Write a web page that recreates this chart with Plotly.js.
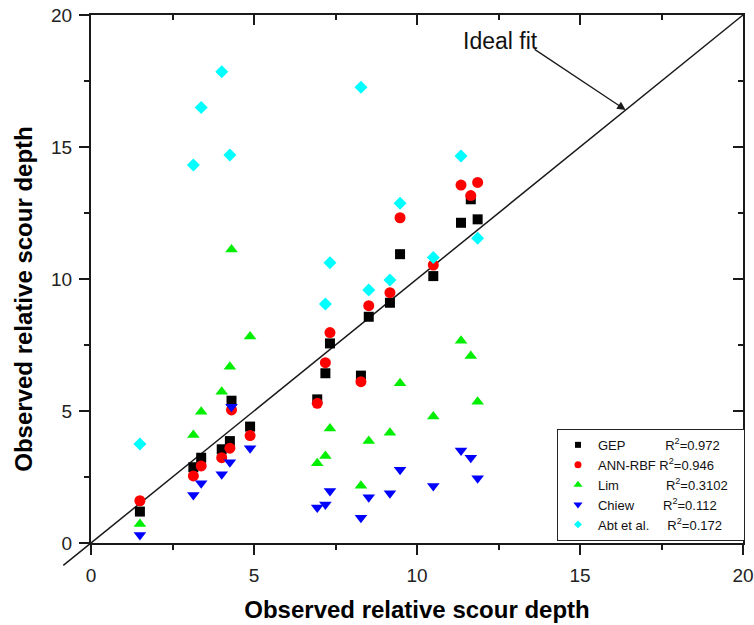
<!DOCTYPE html>
<html><head><meta charset="utf-8">
<script src="https://cdn.plot.ly/plotly-3.0.1.min.js"></script>
<style>html,body{margin:0;padding:0;background:#fff}#chart{width:754px;height:625px}</style>
</head><body><div id="chart"></div>
<script>
// Observed relative scour depth (shared x values)
const observed = [1.50, 3.14, 3.38, 4.01, 4.26, 4.31, 4.88, 6.94, 7.19, 7.33, 8.28, 8.52, 9.17, 9.48, 10.50, 11.35, 11.65, 11.86];
const gepPred   = [1.19, 2.87, 3.23, 3.55, 3.86, 5.39, 4.41, 5.44, 6.43, 7.56, 6.34, 8.57, 9.10, 10.94, 10.11, 12.13, 13.02, 12.26];
const annPred   = [1.60, 2.54, 2.92, 3.23, 3.59, 5.04, 4.07, 5.29, 6.83, 7.97, 6.11, 8.99, 9.48, 12.32, 10.53, 13.56, 13.16, 13.66];
const limPred   = [0.72, 4.09, 4.97, 5.73, 6.68, 11.12, 7.82, 3.02, 3.30, 4.34, 2.17, 3.86, 4.18, 6.05, 4.79, 7.66, 7.08, 5.35];
const chiewPred = [0.30, 1.82, 2.26, 2.60, 3.06, 5.16, 3.59, 1.34, 1.46, 1.97, 0.96, 1.73, 1.88, 2.77, 2.16, 3.50, 3.23, 2.45];
const abtObserved = [1.50, 3.14, 3.38, 4.01, 4.26, 7.19, 7.33, 8.28, 8.52, 9.17, 9.48, 10.50, 11.35, 11.86];
const abtPred     = [3.75, 14.32, 16.50, 17.85, 14.70, 9.05, 10.62, 17.26, 9.58, 9.96, 12.87, 10.81, 14.66, 11.54];

const seriesNames = ['GEP', 'ANN-RBF', 'Lim', 'Chiew', 'Abt et al.'];
const rSquared = ['0.972', '0.946', '0.3102', '0.112', '0.172'];
const namePad = [11, 1, 13, 8, 5];

const axisRange = [0, 20];
const majorTicks = [0, 5, 10, 15, 20];
const idealFitEnds = [-0.85, 20];
const arrowPoint = 16.4;

const FONT = 'Liberation Sans, Arial, Helvetica, sans-serif';
function toPaper(v) { return (v - axisRange[0]) / (axisRange[1] - axisRange[0]); }
function legendName(i) {
  return seriesNames[i] + '&nbsp;'.repeat(namePad[i]) + 'R<sup>2</sup>=' + rSquared[i] + '&nbsp;'.repeat(3);
}
const symbols = ['square', 'circle', 'triangle-up', 'triangle-down', 'diamond'];
const colors = ['#000000', '#ff0000', '#00ee00', '#0000ff', '#00ffff'];
const sizes = [10, 11, 11, 11, 10];
const legendSizes = [6, 7, 8, 8, 6];

function series(i, x, y) {
  return {type: 'scatter', mode: 'markers', name: seriesNames[i], x: x, y: y,
    legendgroup: seriesNames[i], showlegend: false,
    marker: {symbol: symbols[i], color: colors[i], size: sizes[i], line: {width: 0}},
    hoverinfo: 'x+y'};
}
function legendKey(i) {
  return {type: 'scatter', mode: 'markers', name: legendName(i), x: [null], y: [null],
    legendgroup: seriesNames[i], showlegend: true, hoverinfo: 'skip',
    marker: {symbol: symbols[i], color: colors[i], size: legendSizes[i], line: {width: 0}}};
}

const predictions = [gepPred, annPred, limPred, chiewPred];
const data = [];
predictions.forEach(function (p, i) { data.push(series(i, observed, p)); });
data.push(series(4, abtObserved, abtPred));
seriesNames.forEach(function (n, i) { data.push(legendKey(i)); });
data.push({type: 'scatter', mode: 'markers', x: [], y: [], xaxis: 'x2', yaxis: 'y', showlegend: false, hoverinfo: 'skip'});
data.push({type: 'scatter', mode: 'markers', x: [], y: [], xaxis: 'x', yaxis: 'y2', showlegend: false, hoverinfo: 'skip'});

const tickFont = {family: FONT, size: 19, color: '#222'};
const titleFont = {family: FONT, size: 24, color: '#000', weight: 'bold'};

const baseAxis = {
  range: axisRange, tickvals: majorTicks, ticktext: majorTicks.map(String),
  showgrid: false, zeroline: false, showline: true, linecolor: '#1a1a1a', linewidth: 2,
  tickcolor: '#1a1a1a', tickwidth: 2, fixedrange: true
};

const layout = {
  width: 754, height: 625,
  margin: {l: 91, r: 11, t: 15, b: 82, autoexpand: false},
  paper_bgcolor: '#ffffff', plot_bgcolor: 'rgba(0,0,0,0)',
  font: {family: FONT, color: '#000'},
  showlegend: true,
  legend: {
    x: 0.7147, xanchor: 'left', y: 0.004, yanchor: 'bottom',
    bgcolor: '#ffffff', bordercolor: '#222', borderwidth: 1,
    font: {family: FONT, size: 13, color: '#111'}, traceorder: 'normal', tracegroupgap: 0
  },
  xaxis: Object.assign({}, baseAxis, {
    ticks: 'outside', ticklen: 10, tickfont: tickFont, ticklabelstandoff: 4,
    minor: {dtick: 2.5, tick0: 0, ticks: 'outside', ticklen: 5, tickwidth: 2, tickcolor: '#1a1a1a', showgrid: false},
    title: {text: 'Observed relative scour depth', font: titleFont, standoff: 16}
  }),
  yaxis: Object.assign({}, baseAxis, {
    ticks: 'outside', ticklen: 10, tickfont: tickFont, ticklabelstandoff: 3,
    minor: {dtick: 2.5, tick0: 0, ticks: 'outside', ticklen: 5, tickwidth: 2, tickcolor: '#1a1a1a', showgrid: false},
    title: {text: 'Observed relative scour depth' + '&nbsp;'.repeat(6), font: titleFont, standoff: 12}
  }),
  xaxis2: Object.assign({}, baseAxis, {
    overlaying: 'x', side: 'top', anchor: 'y', ticks: 'inside', ticklen: 10, showticklabels: false,
    minor: {dtick: 2.5, tick0: 0, ticks: 'inside', ticklen: 5, tickwidth: 2, tickcolor: '#1a1a1a', showgrid: false}
  }),
  yaxis2: Object.assign({}, baseAxis, {
    overlaying: 'y', side: 'right', anchor: 'x', ticks: 'inside', ticklen: 10, showticklabels: false,
    minor: {dtick: 2.5, tick0: 0, ticks: 'inside', ticklen: 5, tickwidth: 2, tickcolor: '#1a1a1a', showgrid: false}
  }),
  shapes: [{
    type: 'line', xref: 'paper', yref: 'paper', layer: 'below',
    x0: toPaper(idealFitEnds[0]), y0: toPaper(idealFitEnds[0]),
    x1: toPaper(idealFitEnds[1]), y1: toPaper(idealFitEnds[1]),
    line: {color: '#1a1a1a', width: 1.5}
  }],
  annotations: [
    {x: 11.35, y: 19.0, xref: 'x', yref: 'y', xanchor: 'left', yanchor: 'middle',
     text: 'Ideal fit', showarrow: false, font: {family: FONT, size: 23, color: '#111'}},
    {x: arrowPoint, y: arrowPoint, xref: 'x', yref: 'y', text: ' ', showarrow: true,
     ax: -93, ay: -62, arrowhead: 2, arrowsize: 1.3, arrowwidth: 1.3, arrowcolor: '#1a1a1a',
     font: {size: 2}}
  ]
};

Plotly.newPlot('chart', data, layout, {displayModeBar: false, staticPlot: true});
</script>
</body></html>
